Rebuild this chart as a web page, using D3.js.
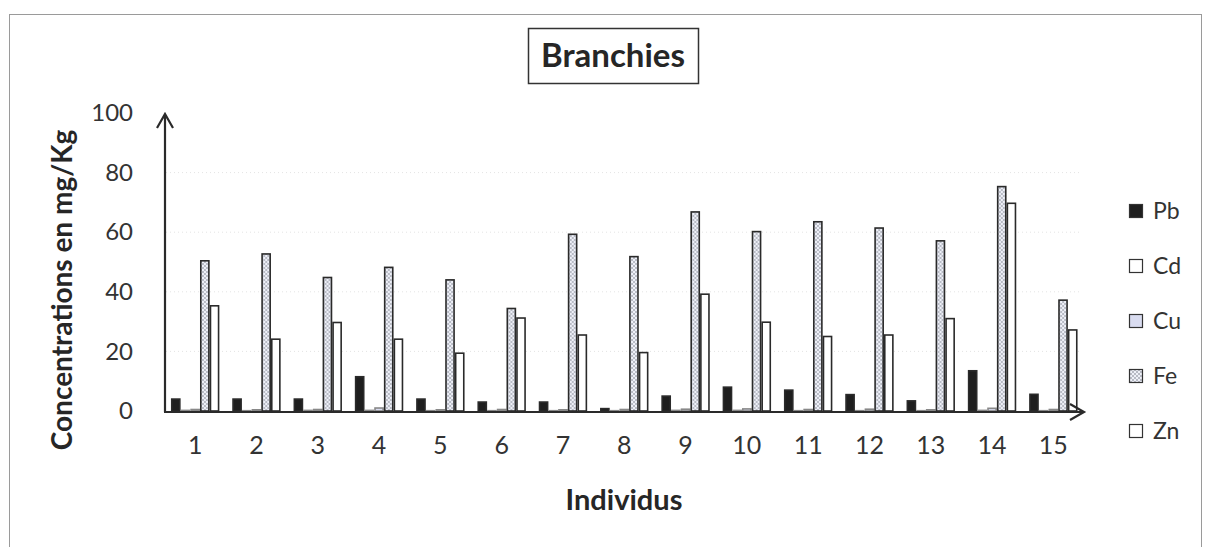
<!DOCTYPE html>
<html>
<head>
<meta charset="utf-8">
<script src="https://cdn.jsdelivr.net/npm/d3@7"></script>
<style>
  body { margin: 0; background: #fff; }
  svg { font-family: Lato, "Open Sans", sans-serif; }
</style>
</head>
<body>
<div id="chart"></div>
<script>
const individus = d3.range(1, 16).map(String)
const metals = ["Pb", "Cd", "Cu", "Fe", "Zn"]

const pb = [4, 4, 4, 11.5, 4, 3, 3, 0.8, 5, 8, 7, 5.5, 3.4, 13.5, 5.6]
const cd = [0.2, 0.1, 0.2, 0.2, 0.1, 0.1, 0.1, 0.1, 0.2, 0.2, 0.1, 0.1, 0.1, 0.2, 0.1]
const cu = [0.5, 0.4, 0.5, 1.0, 0.4, 0.5, 0.4, 0.5, 0.6, 0.7, 0.5, 0.6, 0.4, 0.9, 0.5]
const fe = [50.4, 52.7, 44.8, 48.2, 44, 34.4, 59.3, 51.8, 66.8, 60.2, 63.5, 61.4, 57.1, 75.3, 37.2]
const zn = [35.3, 24.1, 29.7, 24.1, 19.4, 31.2, 25.5, 19.6, 39.2, 29.8, 25, 25.5, 31, 69.7, 27.2]
const yTicks = [0, 20, 40, 60, 80, 100]

const values = { Pb: pb, Cd: cd, Cu: cu, Fe: fe, Zn: zn }
const data = individus.map((d, i) => ({ id: d, vals: metals.map(m => ({ key: m, value: values[m][i] })) }))

const width = 1206, height = 547
const svg = d3.select("#chart").append("svg")
    .attr("width", width)
    .attr("height", height)

// hatch pattern for Fe
const defs = svg.append("defs")
const pat = defs.append("pattern")
    .attr("id", "hatch")
    .attr("patternUnits", "userSpaceOnUse")
    .attr("width", 4).attr("height", 4)
pat.append("rect").attr("width", 4).attr("height", 4).attr("fill", "#eef0f8")
pat.append("path").attr("d", "M0,0 L4,4 M4,0 L0,4")
    .attr("stroke", "#a9adb8").attr("stroke-width", 0.8)

const fills = { Pb: "#1e1e1e", Cd: "#ffffff", Cu: "#d9dcf0", Fe: "url(#hatch)", Zn: "#ffffff" }

// outer frame
svg.append("rect")
    .attr("x", 9.5).attr("y", 14.5)
    .attr("width", 1192).attr("height", 560)
    .attr("fill", "none").attr("stroke", "#9a9a9a").attr("stroke-width", 1)

const x0 = d3.scaleBand()
    .domain(individus)
    .range([164.5, 1084])
    .paddingInner(0.21)
    .paddingOuter(0.105)

const x1 = d3.scaleBand()
    .domain(metals)
    .range([0, x0.bandwidth()])

const y = d3.scaleLinear()
    .domain([0, 100])
    .range([411, 113])

// faint dotted gridlines
svg.append("g")
    .selectAll("line")
    .data(yTicks.filter(t => t > 0 && t < 100))
    .join("line")
    .attr("x1", 166).attr("x2", 1080)
    .attr("y1", d => y(d)).attr("y2", d => y(d))
    .attr("stroke", "#e4e4e4").attr("stroke-dasharray", "1,3")

// bars
svg.append("g")
    .selectAll("g")
    .data(data)
    .join("g")
    .attr("transform", d => `translate(${x0(d.id)},0)`)
    .selectAll("rect")
    .data(d => d.vals)
    .join("rect")
    .attr("x", d => x1(d.key) + 0.8)
    .attr("y", d => y(d.value))
    .attr("width", x1.bandwidth() - 1.6)
    .attr("height", d => y(0) - y(d.value))
    .attr("fill", d => fills[d.key])
    .attr("stroke", d => d.key === "Cd" || d.key === "Cu" ? "#888" : "#2a2a2a")
    .attr("stroke-width", 1.6)

// y axis (no ticks, labels only)
const yAxis = d3.axisLeft(y).tickValues(yTicks).tickSize(0).tickPadding(0)
const gy = svg.append("g")
    .attr("transform", "translate(133,0)")
    .call(yAxis)
gy.select(".domain").remove()
gy.selectAll("text")
    .attr("font-size", 24)
    .attr("fill", "#333")
    .attr("font-family", "Lato, sans-serif")

// x axis labels
const xAxis = d3.axisBottom(x0).tickSize(0).tickPadding(0)
const gx = svg.append("g")
    .attr("transform", "translate(0,436)")
    .call(xAxis)
gx.select(".domain").remove()
gx.selectAll("text")
    .attr("font-size", 25)
    .attr("fill", "#333")
    .attr("font-family", "Lato, sans-serif")

// axis lines with open arrows
const axisColor = "#2a2a2a"
svg.append("path")
    .attr("d", `M165,${y(0) + 1} L165,114 M157,128 L165,114 L173,128`)
    .attr("fill", "none").attr("stroke", axisColor).attr("stroke-width", 2.2)
svg.append("path")
    .attr("d", `M164,${y(0) + 1} L1084,${y(0) + 1} M1070,${y(0) - 7} L1084,${y(0) + 1} L1070,${y(0) + 9}`)
    .attr("fill", "none").attr("stroke", axisColor).attr("stroke-width", 2.2)

// titles
svg.append("rect")
    .attr("x", 528.5).attr("y", 28.5)
    .attr("width", 170).attr("height", 55)
    .attr("fill", "#fff").attr("stroke", "#333").attr("stroke-width", 1.5)
svg.append("text")
    .attr("x", 613).attr("y", 67)
    .attr("text-anchor", "middle")
    .attr("font-size", 33).attr("font-weight", "bold").attr("fill", "#262626")
    .text("Branchies")

svg.append("text")
    .attr("x", 624).attr("y", 510)
    .attr("text-anchor", "middle")
    .attr("font-size", 29).attr("font-weight", "bold").attr("fill", "#262626")
    .text("Individus")

svg.append("text")
    .attr("transform", "translate(72,290) rotate(-90)")
    .attr("text-anchor", "middle")
    .attr("font-size", 28).attr("font-weight", "bold").attr("fill", "#262626")
    .text("Concentrations en mg/Kg")

// legend
const legend = svg.append("g")
    .selectAll("g")
    .data(metals)
    .join("g")
    .attr("transform", (d, i) => `translate(1129,${211 + i * 55})`)
legend.append("rect")
    .attr("x", 0.5).attr("y", -6.5)
    .attr("width", 13).attr("height", 13)
    .attr("fill", d => fills[d])
    .attr("stroke", "#333").attr("stroke-width", 1.2)
legend.append("text")
    .attr("x", 24).attr("y", 8)
    .attr("font-size", 23).attr("fill", "#333")
    .text(d => d)
</script>
</body>
</html>
